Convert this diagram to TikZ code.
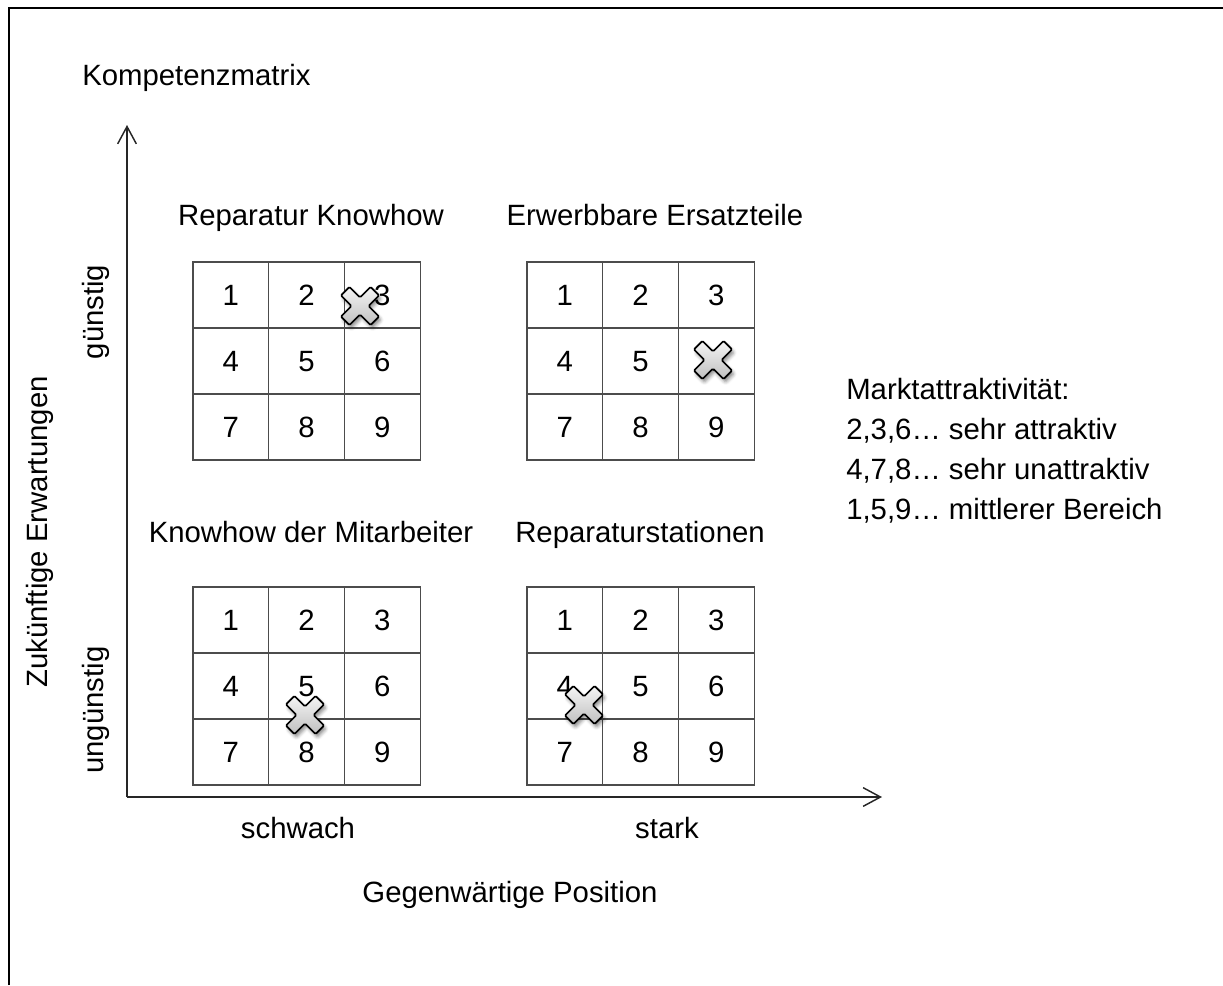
\documentclass[tikz,border=0pt]{standalone}
\usepackage{fontspec}
\setmainfont{Liberation Sans}
\usetikzlibrary{arrows.meta, shadows.blur, positioning}

\tikzset{
  txt/.style={font=\fontsize{22}{26}\selectfont, inner sep=0pt, text height=15.8pt, text depth=0pt},
  zelle/.style={txt, draw=black!70, line width=0.8pt, minimum width=56.8pt, minimum height=49.5pt},
  achse/.style={draw=black!85, line width=1.1pt, -{Straight Barb[length=13pt,width=14pt]}},
  kreuzform/.style={draw=black, line width=1.3pt, rounded corners=1pt, top color=gray!8, bottom color=gray!50,
    blur shadow={shadow xshift=1.5pt, shadow yshift=-2.5pt, shadow blur radius=2.5pt, shadow opacity=45}},
  kreuz/.pic={
    \path[kreuzform] (0,8.5) -- (10.6,19.1) -- (19.1,10.6) -- (8.5,0) -- (19.1,-10.6) -- (10.6,-19.1)
      -- (0,-8.5) -- (-10.6,-19.1) -- (-19.1,-10.6) -- (-8.5,0) -- (-19.1,10.6) -- (-10.6,19.1) -- cycle;
  }
}

\begin{document}
\begin{tikzpicture}[x=0.75pt, y=-0.75pt]
	  \useasboundingbox (0,0) rectangle (1223,985);
	  % frame
	  \draw[line width=2.2pt] (9,985) -- (9,8) -- (1223,8);
	  \node (titel) at (82,75) [txt,anchor=west]{Kompetenzmatrix};
	  % axes
	  \coordinate (ursprung) at (127,797);
	  \coordinate (yende) at (127,125);
	  \coordinate (xende) at (882,797);
	  \draw[achse] (ursprung) -- (yende);
	  \draw[achse] (ursprung) -- (xende);
	  \node (guenstig) at (93,312) [txt,rotate=90]{günstig};
	  \node (unguenstig) at (93,710) [txt,rotate=90]{ungünstig};
	  \node (erwartung) at (37,532) [txt,rotate=90]{Zukünftige Erwartungen};
	  \node (schwach) at (298,828) [txt]{schwach};
	  \node (stark) at (667,828) [txt]{stark};
	  \node (position) at (510,892) [txt]{Gegenwärtige Position};
	  % the four matrices
	  \foreach \g/\gx/\gy in {1/193/262, 2/527/262, 3/193/587, 4/527/587}{
	    \foreach \r in {0,1,2}{
	      \foreach \c in {0,1,2}{
	        \pgfmathtruncatemacro\n{3*\r+\c+1}
	        \node (g\g-\n) at ({\gx+(\c+0.5)*75.7},{\gy+(\r+0.5)*66}) [zelle]{\n};
	      }
	    }
	  }
	  \node (m1) at (311,215) [txt]{Reparatur Knowhow};
	  \node (m2) at (655,215) [txt]{Erwerbbare Ersatzteile};
	  \node (m3) at (311,532) [txt]{Knowhow der Mitarbeiter};
	  \node (m4) at (640,532) [txt]{Reparaturstationen};
	  % markers
	  \pic (k1) at (360,306) {kreuz};
	  \pic (k2) at (713,360) {kreuz};
	  \pic (k3) at (305,715) {kreuz};
	  \pic (k4) at (584,705) {kreuz};
	  % legend
	  \node (legende) at (846,389) [txt,anchor=west]{Marktattraktivität:};
	  \node (l1) at (846,429) [txt,anchor=west]{2,3,6… sehr attraktiv};
	  \node (l2) at (846,469) [txt,anchor=west]{4,7,8… sehr unattraktiv};
	  \node (l3) at (846,509) [txt,anchor=west]{1,5,9… mittlerer Bereich};
	\end{tikzpicture}
\end{document}
